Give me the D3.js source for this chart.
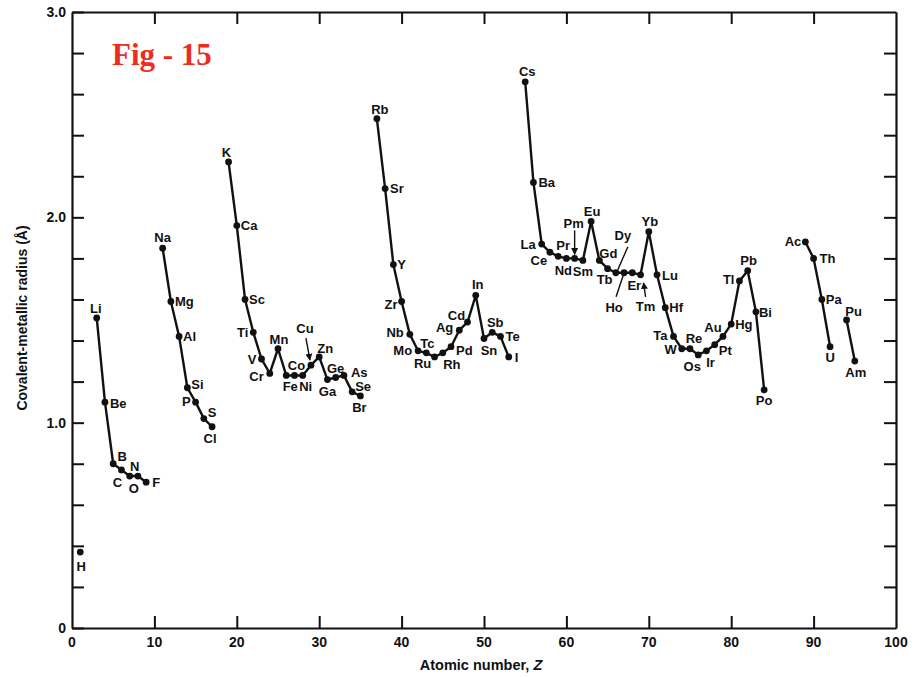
<!DOCTYPE html>
<html><head><meta charset="utf-8">
<script src="https://cdn.jsdelivr.net/npm/d3@7"></script>
<style>
body{margin:0;background:#fff}
text{font-family:"Liberation Sans",Arial,Helvetica,sans-serif;font-weight:bold;fill:#111}
</style>
</head><body>
<svg id="chart" width="917" height="677"></svg>
<script>
// ---------------- DATA ----------------
const symbols = ["H","Li","Be","B","C","N","O","F","Na","Mg","Al","Si","P","S","Cl",
  "K","Ca","Sc","Ti","V","Cr","Mn","Fe","Co","Ni","Cu","Zn","Ga","Ge","As","Se","Br",
  "Rb","Sr","Y","Zr","Nb","Mo","Tc","Ru","Rh","Pd","Ag","Cd","In","Sn","Sb","Te","I",
  "Cs","Ba","La","Ce","Pr","Nd","Pm","Sm","Eu","Gd","Tb","Dy","Ho","Er","Tm","Yb","Lu",
  "Hf","Ta","W","Re","Os","Ir","Pt","Au","Hg","Tl","Pb","Bi","Po",
  "Ac","Th","Pa","U","Pu","Am"];
const atomicNumber = [1,3,4,5,6,7,8,9,11,12,13,14,15,16,17,
  19,20,21,22,23,24,25,26,27,28,29,30,31,32,33,34,35,
  37,38,39,40,41,42,43,44,45,46,47,48,49,50,51,52,53,
  55,56,57,58,59,60,61,62,63,64,65,66,67,68,69,70,71,
  72,73,74,75,76,77,78,79,80,81,82,83,84,
  89,90,91,92,94,95];
const radius = [0.37,1.51,1.10,0.80,0.77,0.74,0.74,0.71,1.85,1.59,1.42,1.17,1.10,1.02,0.98,
  2.27,1.96,1.60,1.44,1.31,1.24,1.36,1.23,1.23,1.23,1.28,1.32,1.21,1.22,1.23,1.15,1.13,
  2.48,2.14,1.77,1.59,1.43,1.35,1.34,1.32,1.34,1.37,1.45,1.49,1.62,1.41,1.44,1.42,1.32,
  2.66,2.17,1.87,1.83,1.81,1.80,1.80,1.79,1.98,1.79,1.75,1.73,1.73,1.73,1.72,1.93,1.72,
  1.56,1.42,1.36,1.36,1.33,1.35,1.38,1.42,1.48,1.69,1.74,1.54,1.16,
  1.88,1.80,1.60,1.37,1.50,1.30];
// connected runs (first Z, last Z)
const runs = [[1,1],[3,9],[11,17],[19,35],[37,53],[55,84],[89,92],[94,95]];
const xTickValues = [0,10,20,30,40,50,60,70,80,90,100];
const yTickValues = [0,1,2,3];
const yTickLabels = ["0","1.0","2.0","3.0"];
const xTitle = "Atomic number, ";
const yTitle = "Covalent-metallic radius (Å)";
const figTitle = "Fig - 15";

// ---------------- LAYOUT (label placement) ----------------
// [anchor, dx, dy] : r = start, l = end, c = middle ; dy = visual centre offset
const labelPlace = {
 H:["c",1,14],Li:["c",-1,-10],Be:["r",5,1],B:["c",9,-7],C:["c",-4,12],N:["c",5,-10],O:["c",-4,12],F:["r",6,0],
 Na:["c",0,-11],Mg:["r",4,0],Al:["r",4,0],Si:["r",4,-3],P:["l",-5,-1],S:["r",4,-6],Cl:["c",-2,12],
 K:["c",-2,-10],Ca:["r",4,0],Sc:["r",4,0],Ti:["l",-5,0],V:["l",-5,0],Cr:["l",-6,3],Mn:["c",1,-9],Fe:["c",4,11],
 Co:["c",2,-10],Ni:["c",3,11],Cu:["c",-6,-37],Zn:["c",6,-9],Ga:["c",0,12],Ge:["c",0,-9],As:["r",7,-3],Se:["r",3,-6],Br:["c",-1,11],
 Rb:["c",3,-9],Sr:["r",5,0],Y:["r",4,0],Zr:["l",-4,3],Nb:["l",-6,-2],Mo:["l",-6,0],Tc:["c",1,-10],Ru:["c",-12,6],
 Rh:["c",9,11],Pd:["r",5,4],Ag:["l",-6,-3],Cd:["c",-11,-7],In:["c",2,-11],Sn:["c",5,12],Sb:["c",3,-10],Te:["r",5,0],I:["r",6,0],
 Cs:["c",2,-10],Ba:["r",5,0],La:["l",-6,0],Ce:["c",-11,8],Pr:["c",5,-11],Nd:["c",-3,12],Pm:["c",-1,-35],Sm:["c",0,11],
 Eu:["c",1,-10],Gd:["c",9,-7],Tb:["c",-3,11],Dy:["c",7,-37],Ho:["c",-10,35],Er:["c",2,13],Tm:["c",5,31],Yb:["c",1,-10],
 Lu:["r",5,0],Hf:["r",4,0],Ta:["l",-6,-1],W:["l",-5,1],Re:["c",4,-10],Os:["c",-6,11],Ir:["c",4,12],Pt:["r",4,6],
 Au:["c",-10,-9],Hg:["r",4,0],Tl:["l",-5,-2],Pb:["c",1,-10],Bi:["r",3,1],Po:["c",0,11],
 Ac:["l",-4,-1],Th:["r",6,0],Pa:["r",4,0],U:["c",0,11],Pu:["c",7,-9],Am:["c",1,11]
};
// leader lines from label to point: [symbol, x1, y1, x2, y2, arrow]
const leaders = [["Cu",-5,-27,-1,-5,true],["Pm",0,-28,0,-4,true],["Dy",12,-26,2,-3,false],
                 ["Ho",-8,24,-1,3,false],["Tm",5,22,3,8,true]];

// ---------------- DRAW ----------------
const svg = d3.select("#chart");
const x = d3.scaleLinear().domain([0,100]).range([72,896]);
const y = d3.scaleLinear().domain([0,3]).range([628,12]);

const pts = symbols.map((s,i)=>({s, z:atomicNumber[i], r:radius[i]}));

svg.append("defs").append("marker").attr("id","ah").attr("viewBox","0 0 10 10")
  .attr("refX",9).attr("refY",5).attr("markerWidth",5).attr("markerHeight",6).attr("orient","auto")
  .append("path").attr("d","M0,0L10,5L0,10z").attr("fill","#111");

// axes (ticks inward)
const minor = d3.range(0,3.0001,0.2);
const fmtY = d => { const k = yTickValues.findIndex(v=>Math.abs(v-d)<1e-6); return k>=0 ? yTickLabels[k] : ""; };
const styleAxis = g => {
  g.selectAll("path.domain").attr("stroke","#111").attr("stroke-width",2.2);
  g.selectAll(".tick line").attr("stroke","#111").attr("stroke-width",2);
  g.selectAll(".tick text").style("font-size","14px").style("font-family",'"Liberation Sans",Arial,sans-serif')
    .style("font-weight","bold").attr("fill","#111");
};
svg.append("g").attr("transform",`translate(0,${y(0)})`)
  .call(d3.axisBottom(x).tickValues(xTickValues.slice(1,-1)).tickSize(-12).tickSizeOuter(0).tickFormat(""))
  .call(styleAxis);
svg.append("g").attr("transform",`translate(0,${y(3)})`)
  .call(d3.axisTop(x).tickValues(xTickValues.slice(1,-1)).tickSize(-12).tickSizeOuter(0).tickFormat(""))
  .call(styleAxis);
svg.append("g").attr("transform",`translate(${x(0)},0)`)
  .call(d3.axisLeft(y).tickValues(minor).tickSize(-12).tickSizeOuter(0).tickPadding(6).tickFormat(fmtY))
  .call(styleAxis);
svg.append("g").attr("transform",`translate(${x(100)},0)`)
  .call(d3.axisRight(y).tickValues(minor.slice(1,-1)).tickSize(-12).tickSizeOuter(0).tickFormat(""))
  .call(styleAxis);
// x tick labels
svg.append("g").selectAll("text").data(xTickValues).join("text")
  .attr("x",d=>x(d)).attr("y",y(0)+19).attr("text-anchor","middle")
  .style("font-size","14px").text(d=>d);

// lines
const line = d3.line().x(d=>x(d.z)).y(d=>y(d.r));
runs.forEach(([a,b])=>{
  const seg = pts.filter(p=>p.z>=a && p.z<=b);
  if(seg.length>1) svg.append("path").attr("d",line(seg)).attr("fill","none")
    .attr("stroke","#111").attr("stroke-width",2.4).attr("stroke-linejoin","round");
});
// dots
svg.append("g").selectAll("circle").data(pts).join("circle")
  .attr("cx",d=>x(d.z)).attr("cy",d=>y(d.r)).attr("r",3.4).attr("fill","#111");

// leaders
leaders.forEach(([s,x1,y1,x2,y2,arr])=>{
  const p = pts.find(q=>q.s===s);
  const l = svg.append("line").attr("x1",x(p.z)+x1).attr("y1",y(p.r)+y1)
    .attr("x2",x(p.z)+x2).attr("y2",y(p.r)+y2).attr("stroke","#111").attr("stroke-width",1.4);
  if(arr) l.attr("marker-end","url(#ah)");
});

// labels
svg.append("g").selectAll("text").data(pts).join("text")
  .attr("x",d=>x(d.z)+labelPlace[d.s][1])
  .attr("y",d=>y(d.r)+labelPlace[d.s][2])
  .attr("dy","0.36em")
  .attr("text-anchor",d=>({r:"start",l:"end",c:"middle"})[labelPlace[d.s][0]])
  .style("font-size","13px").text(d=>d.s);

// axis titles
svg.append("text").attr("transform","translate(27,318) rotate(-90)").attr("text-anchor","middle")
  .style("font-size","14px").text(yTitle);
const xt = svg.append("text").attr("x",481).attr("y",670).attr("text-anchor","middle").style("font-size","14.5px");
xt.append("tspan").text(xTitle);
xt.append("tspan").style("font-style","italic").text("Z");

// figure tag
svg.append("text").attr("x",112).attr("y",65)
  .style("font-family",'"Liberation Serif","Times New Roman",serif').style("font-size","31px")
  .style("font-weight","bold").style("fill","#ee2b1d").text(figTitle);
</script>
</body></html>
